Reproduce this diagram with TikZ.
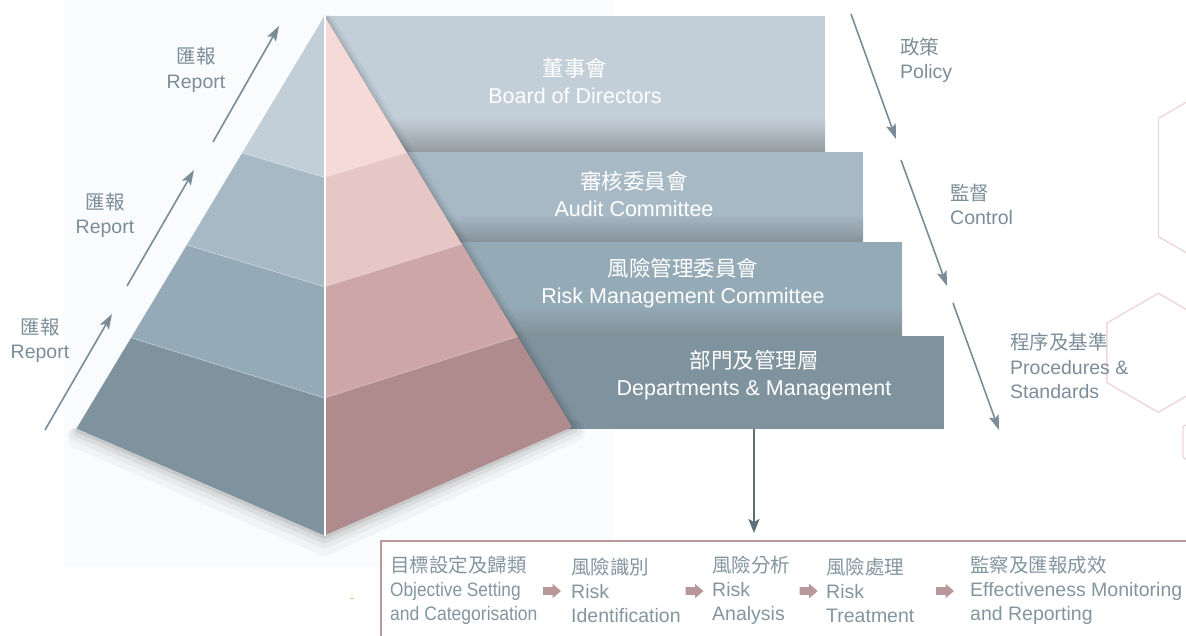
\documentclass[tikz,border=0pt]{standalone}
\usepackage{fontspec}
\setmainfont{Liberation Sans}
\newfontfamily\cjk{Noto Sans CJK TC}
\usetikzlibrary{arrows.meta,calc}
\definecolor{lblgray}{HTML}{7B8D98}
\definecolor{bargray}{HTML}{8396A0}
\definecolor{arrgray}{HTML}{7A8C97}
\definecolor{downgray}{HTML}{5E6F79}
\definecolor{panel}{HTML}{FAFBFD}
\definecolor{hexpink}{HTML}{EFD6DB}
\definecolor{barline}{HTML}{B9999B}
\definecolor{barrow}{HTML}{B8979A}
\definecolor{bA}{HTML}{C2CED8}
\definecolor{bB}{HTML}{A7B9C5}
\definecolor{bC}{HTML}{94AAB6}
\definecolor{bD}{HTML}{7F939E}
\definecolor{pA}{HTML}{F5DAD8}
\definecolor{pB}{HTML}{E6C7C6}
\definecolor{pC}{HTML}{CFA6A7}
\definecolor{pD}{HTML}{AF8B8E}
\tikzset{
  boxtxt/.style={text=white,align=center,inner sep=0pt,font=\fontsize{21.5}{27}\selectfont},
  lbl/.style={text=lblgray,align=center,inner sep=0pt,font=\fontsize{19.5}{24.5}\selectfont},
  rlbl/.style={text=lblgray,align=left,anchor=west,inner sep=0pt,font=\fontsize{19.5}{24.5}\selectfont},
  baritem/.style={text=bargray,align=left,anchor=west,inner sep=0pt,font=\fontsize{19.5}{24}\selectfont},
  flowarrow/.style={draw=arrgray,line width=1.6pt,-{Stealth[length=15pt,width=10pt,inset=3pt]}},
  hexline/.style={draw=hexpink,line width=1.4pt},
}
\newcommand\blockArrow[1]{\fill[barrow] ($(#1)+(-9,-3.8)$) -- ($(#1)+(0.5,-3.8)$) -- ($(#1)+(0.5,-7.2)$) -- ($(#1)+(9,0)$) -- ($(#1)+(0.5,7.2)$) -- ($(#1)+(0.5,3.8)$) -- ($(#1)+(-9,3.8)$) -- cycle;}
\begin{document}
\begin{tikzpicture}[x=1pt,y=-1pt]
\useasboundingbox (0,0) rectangle (1186,635);
% faint panel
\fill[panel] (63,0) rectangle (613,567);
% hexagons
\draw[hexline] (1261,59.1) -- (1158.5,118.3) -- (1158.5,236.7) -- (1261,295.9);
\draw[hexline] (1158.3,293.3) -- (1209.8,323.05) -- (1209.8,382.55) -- (1158.3,412.3) -- (1106.8,382.55) -- (1106.8,323.05) -- cycle;
\draw[hexline,rounded corners=3pt] (1183,425) rectangle (1215,459);
% boxes
\fill[bA] (325,16) rectangle (825,152);
\shade[top color=bA,bottom color=bA!70!black!90] (325,118) rectangle (825,152);
\fill[bB] (325,152) rectangle (863,242);
\shade[top color=bB,bottom color=bB!72!black!90] (325,214) rectangle (863,242);
\fill[bC] (325,242) rectangle (902,336);
\shade[top color=bC,bottom color=bC!78!black!90] (325,306) rectangle (902,336);
\fill[bD] (325,336) rectangle (944,429);
% pyramid points
\coordinate (A) at (324.5,16);
\coordinate (Lb) at (76.5,428.5);
\coordinate (Rb) at (572,427);
\coordinate (B) at (324.5,535.5);
\coordinate (L1) at ($(A)!0.332!(Lb)$);
\coordinate (L2) at ($(A)!0.555!(Lb)$);
\coordinate (L3) at ($(A)!0.78!(Lb)$);
\coordinate (R1) at ($(A)!0.332!(Rb)$);
\coordinate (R2) at ($(A)!0.555!(Rb)$);
\coordinate (R3) at ($(A)!0.78!(Rb)$);
\coordinate (C1) at (324.5,177.4);
\coordinate (C2) at (324.5,286.7);
\coordinate (C3) at (324.5,398);
% shadows
\begin{scope}[black,line cap=round,line join=round]
\draw[line width=22pt,opacity=0.03] ($(Rb)+(2,4)$) -- ($(B)+(0,9)$) -- ($(Lb)+(2,9)$);
\draw[line width=14pt,opacity=0.04] ($(A)+(3,6)$) -- ($(Rb)+(3,3)$) -- ($(B)+(0,6)$) -- ($(Lb)+(0,6)$);
\draw[line width=8pt,opacity=0.06] ($(A)+(2,4)$) -- ($(Rb)+(2,2)$) -- ($(B)+(0,4)$) -- ($(Lb)+(0,4)$);
\draw[line width=3pt,opacity=0.08] ($(A)+(1,2)$) -- ($(Rb)+(1,1)$) -- ($(B)+(0,2)$) -- ($(Lb)+(0,2)$);
\end{scope}
% left face
\fill[bA] (A) -- (L1) -- (C1) -- cycle;
\fill[bB] (L1) -- (L2) -- (C2) -- (C1) -- cycle;
\fill[bC] (L2) -- (L3) -- (C3) -- (C2) -- cycle;
\fill[bD] (L3) -- (Lb) -- (B) -- (C3) -- cycle;
% right face
\fill[pA] (A) -- (R1) -- (C1) -- cycle;
\fill[pB] (R1) -- (R2) -- (C2) -- (C1) -- cycle;
\fill[pC] (R2) -- (R3) -- (C3) -- (C2) -- cycle;
\fill[pD] (R3) -- (Rb) -- (B) -- (C3) -- cycle;
% band boundary lines
\draw[white,opacity=0.35,line width=0.8pt] (L1) -- (C1) -- (R1) (L2) -- (C2) -- (R2) (L3) -- (C3) -- (R3);
\draw[white,line width=2pt] (A) -- (B);
% box texts
\node[boxtxt] (board) at (575,81.5) {{\cjk 董事會}\\Board of Directors};
\node[boxtxt] (audit) at (634,194) {{\cjk 審核委員會}\\Audit Committee};
\node[boxtxt] (risk) at (683,283) {{\cjk 風險管理委員會}\\Risk Management Committee};
\node[boxtxt] (dept) at (754,375.5) {{\cjk 部門及管理層}\\Departments \& Management};
% left labels and arrows
\node[lbl] (rep1) at (196,70) {{\cjk 匯報}\\Report};
\node[lbl] (rep2) at (105,215.5) {{\cjk 匯報}\\Report};
\node[lbl] (rep3) at (40,340.5) {{\cjk 匯報}\\Report};
\coordinate (a1s) at (213,142); \coordinate (a1e) at (279,26);
\coordinate (a2s) at (127,286); \coordinate (a2e) at (194,170);
\coordinate (a3s) at (45,430);  \coordinate (a3e) at (112,314);
\draw[flowarrow] (a1s) -- (a1e);
\draw[flowarrow] (a2s) -- (a2e);
\draw[flowarrow] (a3s) -- (a3e);
% right labels and arrows
\node[rlbl] (pol) at (900,60.5) {{\cjk 政策}\\Policy};
\node[rlbl] (ctl) at (950,204.5) {{\cjk 監督}\\Control};
\node[rlbl] (proc) at (1010,366) {{\cjk 程序及基準}\\Procedures \&\\Standards};
\coordinate (p1s) at (851,14);  \coordinate (p1e) at (896,139);
\coordinate (p2s) at (901,160); \coordinate (p2e) at (947,286);
\coordinate (p3s) at (953,303); \coordinate (p3e) at (999,430);
\draw[flowarrow] (p1s) -- (p1e);
\draw[flowarrow] (p2s) -- (p2e);
\draw[flowarrow] (p3s) -- (p3e);
% bottom bar
\draw[barline,line width=2pt,fill=white] (381,541) rectangle (1200,660);
\coordinate (barTop) at (754,533);
\draw[draw=downgray,line width=1.6pt,-{Stealth[length=14pt,width=11pt,inset=3pt]}] (754,429) -- (barTop);
\draw[orange!60,line width=0.8pt] (350,598) -- (354,598);
\node[baritem] (s1) at (390,590) {{\cjk 目標設定及歸類}\\\scalebox{0.885}[1]{Objective Setting}\\\scalebox{0.9}[1]{and Categorisation}};
\node[baritem] (s2) at (571,590) {{\cjk 風險識別}\\Risk\\Identification};
\node[baritem] (s3) at (712,590) {{\cjk 風險分析}\\Risk\\Analysis};
\node[baritem] (s4) at (826,590) {{\cjk 風險處理}\\Risk\\Treatment};
\node[baritem] (s5) at (970,590) {{\cjk 監察及匯報成效}\\Effectiveness Monitoring\\and Reporting};
\coordinate (ar1) at (552,591);
\coordinate (ar2) at (694.5,591);
\coordinate (ar3) at (808.7,591);
\coordinate (ar4) at (945,591);
\blockArrow{ar1}
\blockArrow{ar2}
\blockArrow{ar3}
\blockArrow{ar4}
\end{tikzpicture}
\end{document}
